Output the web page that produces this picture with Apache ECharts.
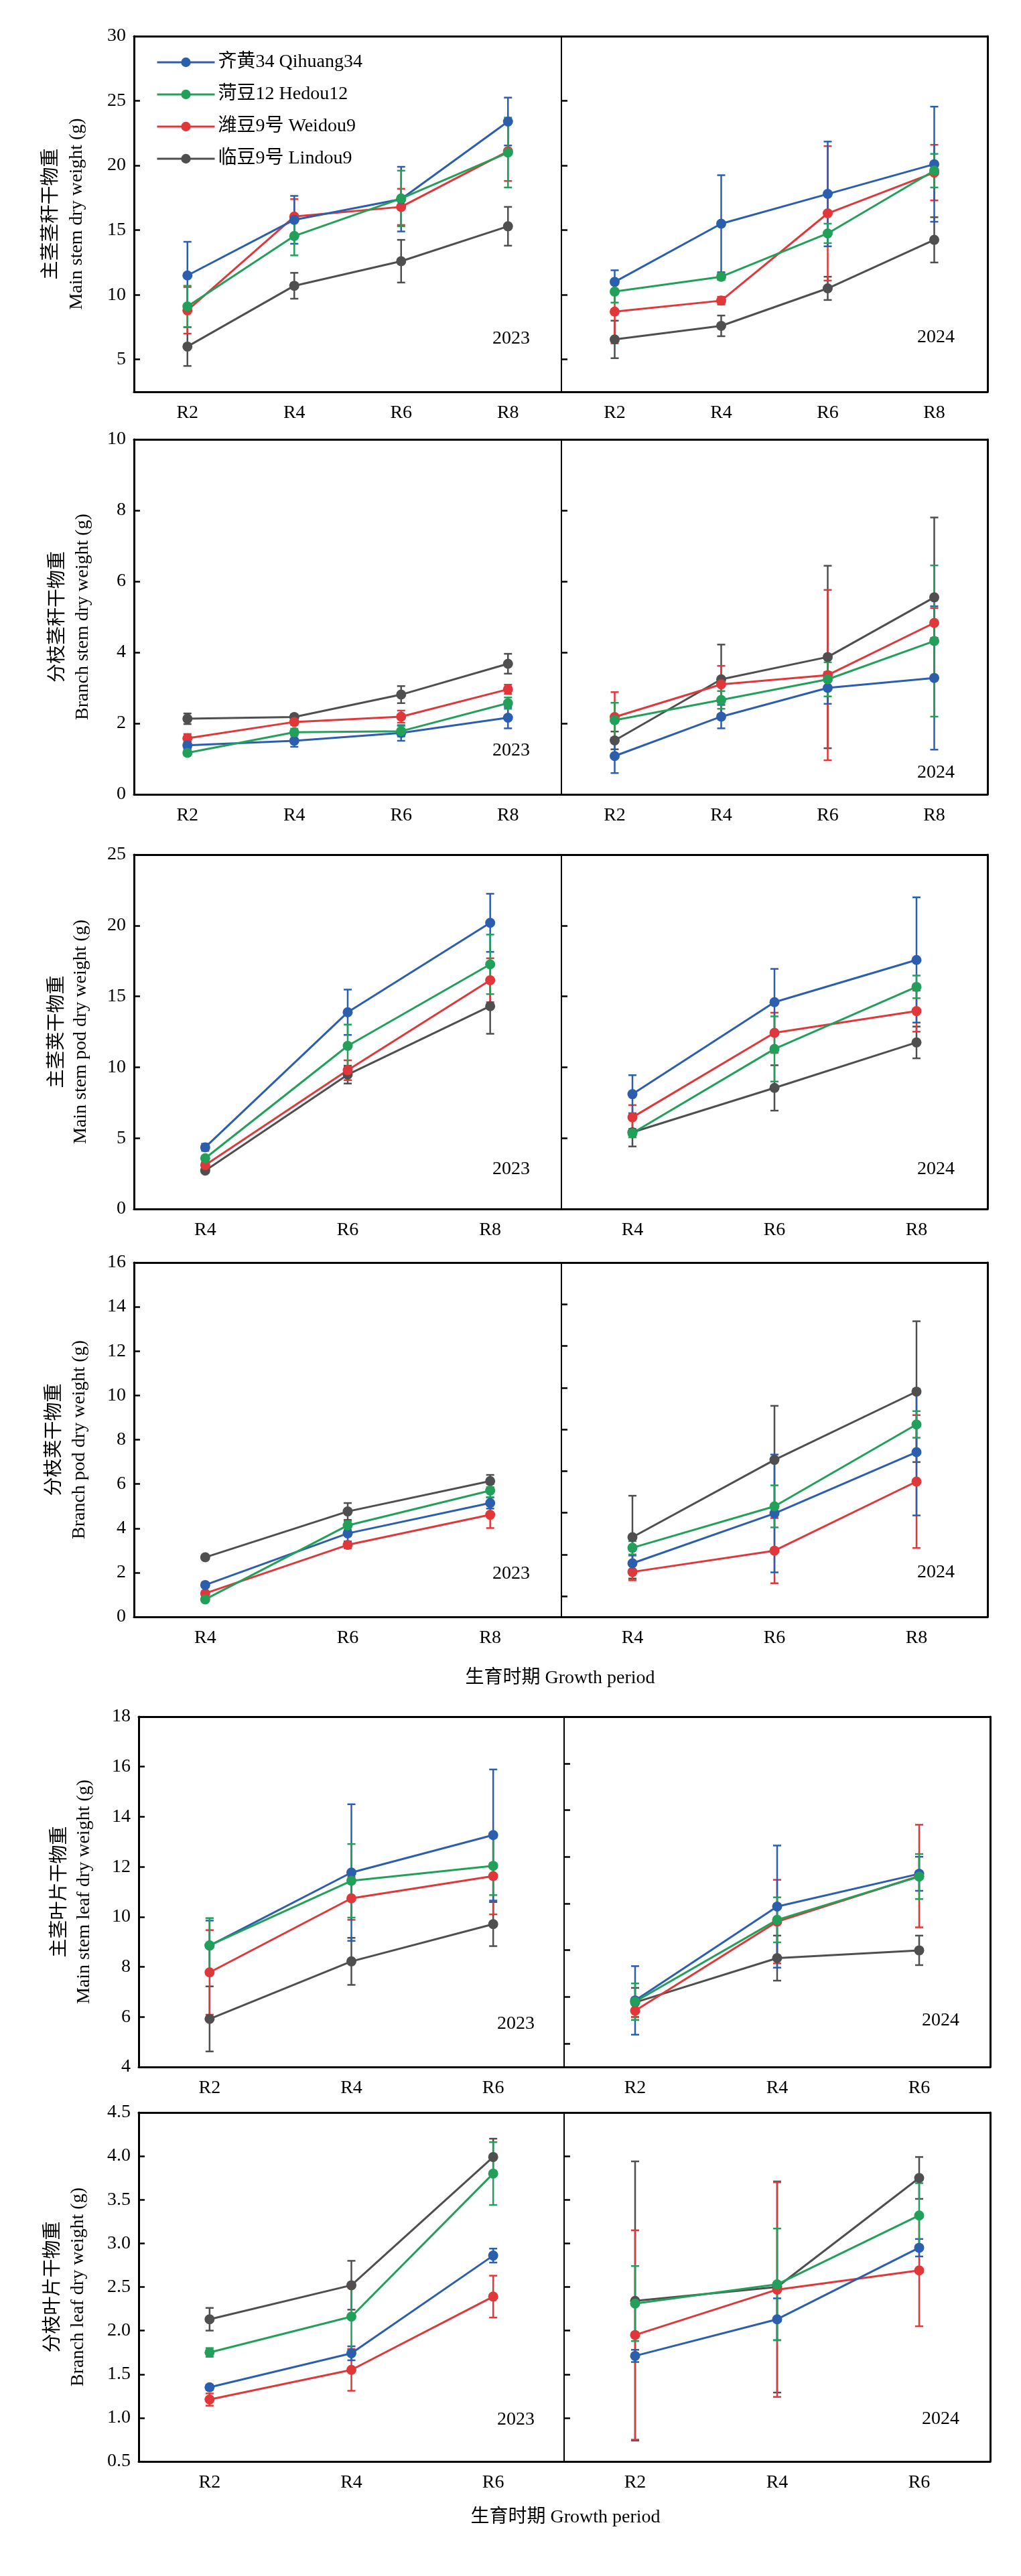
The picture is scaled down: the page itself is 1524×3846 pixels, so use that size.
<!DOCTYPE html>
<html>
<head>
<meta charset="utf-8">
<title>大豆各器官干物重</title>
<script src="https://cdn.jsdelivr.net/npm/echarts@6.0.0/dist/echarts.min.js"></script>
<style>
html, body { margin: 0; padding: 0; background: #fff; }
#main { width: 1524px; height: 3846px; }
</style>
</head>
<body>
<div id="main"></div>
<script>
// 品种 / 生育时期 ---------------------------------
var varieties = ['齐黄34 Qihuang34', '菏豆12 Hedou12', '潍豆9号 Weidou9', '临豆9号 Lindou9'];
var stagesR2R8 = ['R2', 'R4', 'R6', 'R8'];
var stagesR4R8 = ['R4', 'R6', 'R8'];
var stagesR2R6 = ['R2', 'R4', 'R6'];

// 刻度
var ticksMainStem = [5, 10, 15, 20, 25, 30];
var ticksBranchStem = [0, 2, 4, 6, 8, 10];
var ticksMainPod = [0, 5, 10, 15, 20, 25];
var ticksBranchPod = [0, 2, 4, 6, 8, 10, 12, 14, 16];
var ticksBranchPodRight = [0.94, 2.82, 4.71, 6.59, 8.47, 10.35, 12.24, 14.12];
var ticksMainLeaf = [4, 6, 8, 10, 12, 14, 16, 18];
var ticksMainLeafRight = [4.93, 6.8, 8.67, 10.53, 12.4, 14.27, 16.13];
var ticksBranchLeaf = [0.5, 1, 1.5, 2, 2.5, 3, 3.5, 4, 4.5];

// 数据: 每组依次为 齐黄34, 菏豆12, 潍豆9号, 临豆9号
// 主茎茎秆干物重
var mainStem2023 = [[11.5, 15.8, 17.4, 23.4], [9.1, 14.55, 17.45, 21.0], [8.8, 16.05, 16.8, 21.1], [6.0, 10.7, 12.6, 15.3]];
var mainStem2023Err = [[2.6, 1.85, 2.5, 1.85], [1.6, 1.5, 2.15, 2.7], [1.8, 1.35, 1.4, 2.3], [1.5, 1.0, 1.65, 1.5]];
var mainStem2024 = [[11.0, 15.5, 17.8, 20.1], [10.25, 11.4, 14.75, 19.6], [8.7, 9.55, 16.3, 19.45], [6.55, 7.6, 10.5, 14.25]];
var mainStem2024Err = [[0.9, 3.75, 4.05, 4.45], [0.85, 0.25, 0.75, 1.3], [2.45, 0.3, 5.2, 2.15], [1.45, 0.8, 0.9, 1.75]];
// 分枝茎秆干物重
var branchStem2023 = [[1.38, 1.51, 1.73, 2.16], [1.17, 1.75, 1.78, 2.57], [1.58, 2.04, 2.19, 2.96], [2.13, 2.18, 2.81, 3.68]];
var branchStem2023Err = [[0.1, 0.17, 0.22, 0.3], [0.07, 0.1, 0.15, 0.16], [0.12, 0.08, 0.17, 0.13], [0.15, 0.07, 0.24, 0.28]];
var branchStem2024 = [[1.08, 2.19, 3.0, 3.28], [2.09, 2.66, 3.24, 4.32], [2.18, 3.1, 3.36, 4.83], [1.52, 3.24, 3.87, 5.55]];
var branchStem2024Err = [[0.48, 0.33, 0.45, 2.02], [0.49, 0.25, 0.48, 2.13], [0.7, 0.52, 2.4, 0.42], [0.25, 0.98, 2.57, 2.25]];
// 主茎荚干物重
var mainPod2023 = [[4.35, 13.88, 20.19], [3.58, 11.51, 17.26], [3.1, 9.79, 16.14], [2.71, 9.48, 14.31]];
var mainPod2023Err = [[0.25, 1.6, 2.05], [0.15, 1.5, 2.1], [0.2, 0.7, 1.55], [0.1, 0.63, 1.95]];
var mainPod2024 = [[8.1, 14.59, 17.57], [5.35, 11.29, 15.67], [6.47, 12.43, 13.96], [5.41, 8.54, 11.75]];
var mainPod2024Err = [[1.34, 2.35, 4.42], [0.3, 2.3, 0.8], [0.86, 1.42, 1.45], [1.0, 1.6, 1.12]];
// 分枝荚干物重
var branchPod2023 = [[1.44, 3.77, 5.14], [0.79, 4.13, 5.7], [1.06, 3.25, 4.61], [2.69, 4.76, 6.13]];
var branchPod2023Err = [[0.1, 0.36, 0.25], [0.1, 0.2, 0.3], [0.1, 0.15, 0.6], [0.1, 0.38, 0.28]];
var branchPod2024 = [[2.42, 4.67, 7.44], [3.12, 4.99, 8.69], [2.03, 2.99, 6.11], [3.6, 7.09, 10.17]];
var branchPod2024Err = [[0.35, 2.66, 2.86], [0.3, 0.95, 0.6], [0.38, 1.47, 3.0], [1.87, 2.44, 3.18]];
// 主茎叶片干物重
var mainLeaf2023 = [[8.85, 11.77, 13.27], [8.86, 11.44, 12.04], [7.78, 10.74, 11.63], [5.92, 8.22, 9.71]];
var mainLeaf2023Err = [[1.0, 2.73, 2.62], [1.09, 1.47, 1.17], [1.69, 0.86, 1.53], [1.3, 0.94, 0.88]];
var mainLeaf2024 = [[6.66, 10.41, 11.72], [6.61, 9.88, 11.61], [6.25, 9.81, 11.63], [6.58, 8.35, 8.66]];
var mainLeaf2024Err = [[1.37, 2.44, 0.68], [0.73, 0.9, 0.9], [0.25, 1.67, 2.05], [0.58, 0.9, 0.59]];
// 分枝叶片干物重
var branchLeaf2023 = [[1.35, 1.74, 2.86], [1.75, 2.16, 3.8], [1.21, 1.55, 2.39], [2.13, 2.52, 3.99]];
var branchLeaf2023Err = [[0.03, 0.08, 0.08], [0.05, 0.38, 0.36], [0.07, 0.24, 0.24], [0.13, 0.28, 0.21]];
var branchLeaf2024 = [[1.71, 2.13, 2.95], [2.31, 2.53, 3.32], [1.95, 2.47, 2.69], [2.34, 2.5, 3.75]];
var branchLeaf2024Err = [[0.07, 0.24, 0.1], [0.43, 0.64, 0.37], [1.2, 1.23, 0.64], [1.6, 1.21, 0.24]];

var SERIF = "'Liberation Serif', 'Times New Roman', 'Noto Sans CJK SC', serif";
var colors = ['#2C5EAE', '#22A05A', '#E0383A', '#4F4F4F'];
var drawOrder = [3, 2, 0, 1]; // 绿色在最上层

function intFmt(v) { return String(v); }
function oneFmt(v) { return v.toFixed(1); }

// 版面: box = [top, bottom, left, mid, right]
var panels = [
    { cn: '主茎茎秆干物重', en: 'Main stem dry weight (g)', stages: stagesR2R8, min: 2.5, max: 30,
      ticks: ticksMainStem, ticksRight: ticksMainStem, fmt: intFmt,
      d: [mainStem2023, mainStem2024], e: [mainStem2023Err, mainStem2024Err],
      box: [54, 585, 200, 838, 1474], nameX: [77, 115], yearPos: [[763, 506], [1397, 504]] },
    { cn: '分枝茎秆干物重', en: 'Branch stem dry weight (g)', stages: stagesR2R8, min: 0, max: 10,
      ticks: ticksBranchStem, ticksRight: ticksBranchStem, fmt: intFmt,
      d: [branchStem2023, branchStem2024], e: [branchStem2023Err, branchStem2024Err],
      box: [656, 1186, 200, 838, 1474], nameX: [87, 124], yearPos: [[763, 1121], [1397, 1154]] },
    { cn: '主茎荚干物重', en: 'Main stem pod dry weight (g)', stages: stagesR4R8, min: 0, max: 25,
      ticks: ticksMainPod, ticksRight: ticksMainPod, fmt: intFmt,
      d: [mainPod2023, mainPod2024], e: [mainPod2023Err, mainPod2024Err],
      box: [1276, 1805, 200, 838, 1474], nameX: [86, 121], yearPos: [[763, 1746], [1397, 1746]] },
    { cn: '分枝荚干物重', en: 'Branch pod dry weight (g)', stages: stagesR4R8, min: 0, max: 16,
      ticks: ticksBranchPod, ticksRight: ticksBranchPodRight, fmt: intFmt,
      d: [branchPod2023, branchPod2024], e: [branchPod2023Err, branchPod2024Err],
      box: [1885, 2414, 200, 838, 1474], nameX: [82, 119], yearPos: [[763, 2350], [1397, 2348]],
      xName: [836, 2506] },
    { cn: '主茎叶片干物重', en: 'Main stem leaf dry weight (g)', stages: stagesR2R6, min: 4, max: 18,
      ticks: ticksMainLeaf, ticksRight: ticksMainLeafRight, fmt: intFmt,
      d: [mainLeaf2023, mainLeaf2024], e: [mainLeaf2023Err, mainLeaf2024Err],
      box: [2563, 3086, 207, 842, 1478], nameX: [90, 126], yearPos: [[770, 3022], [1404, 3017]] },
    { cn: '分枝叶片干物重', en: 'Branch leaf dry weight (g)', stages: stagesR2R6, min: 0.5, max: 4.5,
      ticks: ticksBranchLeaf, ticksRight: ticksBranchLeaf, fmt: oneFmt,
      d: [branchLeaf2023, branchLeaf2024], e: [branchLeaf2023Err, branchLeaf2024Err],
      box: [3154, 3675, 207, 842, 1478], nameX: [80, 117], yearPos: [[770, 3613], [1404, 3612]],
      xName: [844, 3759] }
];

function errorBars(xi, yi, color, means, errs) {
    return {
        type: 'custom',
        xAxisIndex: xi,
        yAxisIndex: yi,
        silent: true,
        data: means.map(function (m, k) { return [k, m, errs[k]]; }),
        encode: { x: 0, y: 1 },
        renderItem: function (params, api) {
            var x = api.value(0), y = api.value(1), e = api.value(2);
            var hi = api.coord([x, y + e]);
            var lo = api.coord([x, y - e]);
            var half = 6;
            var st = { stroke: color, lineWidth: 2.5 };
            return {
                type: 'group',
                children: [
                    { type: 'line', shape: { x1: hi[0], y1: hi[1], x2: lo[0], y2: lo[1] }, style: st },
                    { type: 'line', shape: { x1: hi[0] - half, y1: hi[1], x2: hi[0] + half, y2: hi[1] }, style: st },
                    { type: 'line', shape: { x1: lo[0] - half, y1: lo[1], x2: lo[0] + half, y2: lo[1] }, style: st }
                ]
            };
        }
    };
}

var grids = [], xAxes = [], yAxes = [], series = [], graphics = [];

panels.forEach(function (p) {
    var top = p.box[0], bottom = p.box[1], left = p.box[2], mid = p.box[3], right = p.box[4];
    [0, 1].forEach(function (side) {
        var g = grids.length;
        grids.push({
            left: side === 0 ? left : mid,
            top: top,
            width: side === 0 ? mid - left : right - mid,
            height: bottom - top
        });
        var xi = xAxes.length;
        xAxes.push({
            gridIndex: g, type: 'category', data: p.stages, boundaryGap: true, position: 'bottom',
            axisLine: { onZero: false, lineStyle: { color: '#000', width: 3 } },
            axisTick: { inside: true, alignWithLabel: true, length: 12, lineStyle: { color: '#000', width: 2.5 } },
            axisLabel: { color: '#000', fontSize: 28, fontFamily: SERIF, margin: 18 },
            splitLine: { show: false }
        });
        xAxes.push({
            gridIndex: g, type: 'category', data: p.stages, position: 'top',
            axisLine: { onZero: false, lineStyle: { color: '#000', width: 3 } },
            axisTick: { show: false }, axisLabel: { show: false }, splitLine: { show: false }
        });
        var yi = yAxes.length;
        var tickVals = side === 0 ? p.ticks : p.ticksRight;
        yAxes.push({
            gridIndex: g, type: 'value', min: p.min, max: p.max, position: 'left',
            axisLine: { show: true, onZero: false, lineStyle: { color: '#000', width: side === 0 ? 3 : 2 } },
            axisTick: { show: true, inside: true, length: 9, customValues: tickVals, lineStyle: { color: '#000', width: 2.5 } },
            axisLabel: {
                show: side === 0, customValues: p.ticks, color: '#000', fontSize: 28,
                fontFamily: SERIF, margin: 12, formatter: p.fmt
            },
            splitLine: { show: false }
        });
        if (side === 1) {
            yAxes.push({
                gridIndex: g, type: 'value', min: p.min, max: p.max, position: 'right',
                axisLine: { show: true, onZero: false, lineStyle: { color: '#000', width: 3 } },
                axisTick: { show: false }, axisLabel: { show: false }, splitLine: { show: false }
            });
        }
        drawOrder.forEach(function (v) {
            series.push(errorBars(xi, yi, colors[v], p.d[side][v], p.e[side][v]));
            series.push({
                type: 'line',
                name: varieties[v],
                xAxisIndex: xi,
                yAxisIndex: yi,
                data: p.d[side][v],
                symbol: 'circle',
                symbolSize: 15,
                lineStyle: { color: colors[v], width: 3 },
                itemStyle: { color: colors[v] },
                silent: true,
                animation: false
            });
        });
        graphics.push({
            type: 'text', x: p.yearPos[side][0], y: p.yearPos[side][1],
            style: { text: side === 0 ? '2023' : '2024', fill: '#000', font: '28px ' + SERIF, align: 'center', verticalAlign: 'middle' }
        });
    });
    var cy = (top + bottom) / 2;
    graphics.push({
        type: 'text', x: p.nameX[0], y: cy, rotation: Math.PI / 2,
        style: { text: p.cn, fill: '#000', font: '28px ' + SERIF, align: 'center', verticalAlign: 'middle' }
    });
    graphics.push({
        type: 'text', x: p.nameX[1], y: cy, rotation: Math.PI / 2,
        style: { text: p.en, fill: '#000', font: '28px ' + SERIF, align: 'center', verticalAlign: 'middle' }
    });
    if (p.xName) {
        graphics.push({
            type: 'text', x: p.xName[0], y: p.xName[1],
            style: { text: '生育时期 Growth period', fill: '#000', font: '28px ' + SERIF, align: 'center', verticalAlign: 'middle' }
        });
    }
});

var myChart = echarts.init(document.getElementById('main'));
var option = {
    animation: false,
    backgroundColor: '#fff',
    legend: {
        data: varieties,
        orient: 'vertical',
        left: 228,
        top: 73,
        itemWidth: 86,
        itemHeight: 18,
        itemGap: 18,
        selectedMode: false,
        lineStyle: { width: 3 },
        textStyle: { color: '#000', fontSize: 28, lineHeight: 30, fontFamily: SERIF }
    },
    grid: grids,
    xAxis: xAxes,
    yAxis: yAxes,
    series: series,
    graphic: graphics
};
myChart.setOption(option);

window.addEventListener('resize', function () {
    myChart.resize();
});
</script>
</body>
</html>
